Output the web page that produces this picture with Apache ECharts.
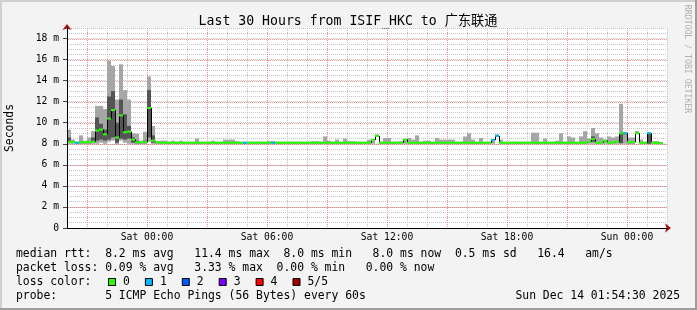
<!DOCTYPE html>
<html><head><meta charset="utf-8">
<script src="https://cdn.jsdelivr.net/npm/echarts@6/dist/echarts.min.js"></script>
<style>html,body{margin:0;padding:0;background:#f3f3f3}#c{width:697px;height:310px}</style>
</head><body><div id="c"></div>
<script>
// time axis in hours relative to Sat 00:00; samples are 12-minute steps starting Fri 20:00
const START_HOUR = -4;
const STEP_HOURS = 0.2;

const pmax = [
 9.35,8.4,8.2,8.8,8.3,8.6,9.2,11.6,11.6,11.3,
 15.9,15.4,12.2,15.55,13.1,12.2,9.0,8.95,8.3,9.15,
 14.4,9.7,8.25,8.3,8.3,8.2,8.3,8.2,8.3,8.2,
 8.2,8.2,8.5,8.2,8.2,8.2,8.3,8.2,8.2,8.4,
 8.4,8.4,8.25,8.2,8.2,8.2,8.2,8.2,8.2,8.2,
 8.25,8.25,8.2,8.2,8.2,8.2,8.2,8.2,8.2,8.2,
 8.2,8.25,8.25,8.2,8.7,8.3,8.2,8.4,8.2,8.5,
 8.25,8.25,8.2,8.2,8.2,8.4,8.45,8.9,8.2,8.55,
 8.55,8.2,8.2,8.25,8.45,8.55,8.4,8.8,8.2,8.3,
 8.3,8.2,8.55,8.4,8.4,8.4,8.4,8.2,8.2,8.7,
 9.0,8.4,8.2,8.55,8.2,8.2,8.45,8.9,8.4,8.2,
 8.2,8.2,8.2,8.2,8.2,8.2,9.05,9.05,8.2,8.5,
 8.2,8.2,8.3,9.0,8.2,8.7,8.6,8.2,8.7,9.2,
 8.5,9.5,9.0,8.6,8.4,8.7,8.6,8.7,11.8,9.1,
 8.6,8.6,9.2,8.4,8.2,9.1,8.25,8.25,8.15
];
const phi = [
 8.6,8.2,8.15,8.15,8.15,8.15,8.6,10.5,9.9,9.35,
 12.5,13.0,10.0,12.2,10.8,9.7,8.6,8.3,8.15,8.3,
 13.1,8.8,8.15,8.15,8.15,8.15,8.15,8.15,8.15,8.15,
 8.15,8.15,8.15,8.15,8.15,8.15,8.15,8.15,8.15,8.15,
 8.15,8.15,8.15,8.15,8.15,8.15,8.15,8.15,8.15,8.15,
 8.15,8.15,8.15,8.15,8.15,8.15,8.15,8.15,8.15,8.15,
 8.15,8.15,8.15,8.15,8.15,8.15,8.15,8.15,8.15,8.15,
 8.15,8.15,8.15,8.15,8.15,8.15,8.4,8.8,8.15,8.15,
 8.15,8.15,8.15,8.15,8.42,8.15,8.15,8.15,8.15,8.15,
 8.15,8.15,8.15,8.15,8.15,8.15,8.15,8.15,8.15,8.15,
 8.15,8.15,8.15,8.15,8.15,8.15,8.4,8.8,8.15,8.15,
 8.15,8.15,8.15,8.15,8.15,8.15,8.15,8.15,8.15,8.15,
 8.15,8.15,8.15,8.15,8.15,8.15,8.15,8.15,8.15,8.15,
 8.25,8.7,8.15,8.15,8.35,8.15,8.15,8.25,9.05,9.05,
 8.15,8.15,9.05,8.15,8.15,9.0,8.15,8.15,8.1
];
const med = [
 8.2,8.15,8.1,8.15,8.15,8.15,8.2,9.25,9.35,8.9,
 10.4,11.2,8.6,10.7,9.1,9.15,8.4,8.15,8.15,8.15,
 11.4,8.3,8.15,8.1,8.1,8.1,8.1,8.1,8.1,8.1,
 8.1,8.1,8.1,8.1,8.1,8.1,8.1,8.1,8.1,8.1,
 8.1,8.1,8.1,8.1,8.1,8.1,8.1,8.1,8.1,8.1,
 8.1,8.1,8.1,8.1,8.1,8.1,8.1,8.1,8.1,8.1,
 8.1,8.1,8.1,8.1,8.1,8.1,8.1,8.1,8.1,8.1,
 8.1,8.1,8.1,8.1,8.1,8.1,8.35,8.75,8.1,8.1,
 8.1,8.1,8.1,8.1,8.4,8.1,8.1,8.1,8.1,8.1,
 8.1,8.1,8.1,8.1,8.1,8.1,8.1,8.1,8.1,8.1,
 8.1,8.1,8.1,8.1,8.1,8.1,8.35,8.75,8.1,8.1,
 8.1,8.1,8.1,8.1,8.1,8.1,8.1,8.1,8.1,8.1,
 8.1,8.1,8.1,8.1,8.1,8.1,8.1,8.1,8.1,8.1,
 8.2,8.45,8.1,8.1,8.3,8.1,8.1,8.2,9.0,9.0,
 8.15,8.15,9.0,8.1,8.1,9.0,8.1,8.1,8.05
];
const plo = [
 8.25,8.1,8.05,8.05,8.05,8.05,8.15,8.3,8.4,8.3,
 8.4,8.6,8.1,8.5,8.4,8.5,8.1,8.05,8.05,8.05,
 8.6,8.1,8.05,8.05,8.05,8.05,8.05,8.05,8.05,8.05,
 8.05,8.05,8.05,8.05,8.05,8.05,8.05,8.05,8.05,8.05,
 8.05,8.05,8.05,8.05,8.05,8.05,8.05,8.05,8.05,8.05,
 8.05,8.05,8.05,8.05,8.05,8.05,8.05,8.05,8.05,8.05,
 8.05,8.05,8.05,8.05,8.05,8.05,8.05,8.05,8.05,8.05,
 8.05,8.05,8.05,8.05,8.05,8.05,8.3,8.72,8.05,8.05,
 8.05,8.05,8.05,8.05,8.35,8.05,8.05,8.05,8.05,8.05,
 8.05,8.05,8.05,8.05,8.05,8.05,8.05,8.05,8.05,8.05,
 8.05,8.05,8.05,8.05,8.05,8.05,8.3,8.72,8.05,8.05,
 8.05,8.05,8.05,8.05,8.05,8.05,8.05,8.05,8.05,8.05,
 8.05,8.05,8.05,8.05,8.05,8.05,8.05,8.05,8.05,8.05,
 8.15,8.2,8.05,8.05,8.25,8.05,8.05,8.15,8.05,8.9,
 8.05,8.05,8.97,8.05,8.05,8.0,8.05,8.05,8.0
];
const pmin = [
 8.0,8.0,8.0,8.0,8.0,8.0,8.0,8.0,8.1,8.0,
 8.2,8.3,7.95,8.3,8.1,8.0,8.0,7.95,8.0,8.0,
 8.2,8.0,8.0,8.0,8.0,8.0,8.0,8.0,8.0,8.0,
 8.0,8.0,8.0,8.0,8.0,8.0,8.0,8.0,8.0,8.0,
 8.0,8.0,8.0,8.0,8.0,8.0,8.0,8.0,8.0,8.0,
 8.0,8.0,8.0,8.0,8.0,8.0,8.0,8.0,8.0,8.0,
 8.0,8.0,8.0,8.0,8.0,8.0,8.0,8.0,8.0,8.0,
 8.0,8.0,8.0,8.0,8.0,8.0,8.0,8.7,8.0,8.0,
 8.0,8.0,8.0,8.0,8.0,8.0,8.0,8.0,8.0,8.0,
 8.0,8.0,8.0,8.0,8.0,8.0,8.0,8.0,8.0,8.0,
 8.0,8.0,8.0,8.0,8.0,8.0,8.0,8.7,8.0,8.0,
 8.0,8.0,8.0,8.0,8.0,8.0,8.0,8.0,8.0,8.0,
 8.0,8.0,8.0,8.0,8.0,8.0,8.0,8.0,8.0,8.0,
 8.0,8.0,8.0,8.0,8.0,8.0,8.0,8.0,8.0,8.0,
 8.0,8.0,8.95,8.0,8.0,8.0,8.0,8.0,8.0
];
const loss = [
 0,0,1,0,0,0,0,0,0,0, 0,0,0,0,0,0,0,0,0,0,
 0,0,0,0,0,0,0,0,0,0, 0,0,0,0,0,0,0,0,0,0,
 0,0,0,0,1,0,0,0,0,0, 0,1,0,0,0,0,0,0,0,0,
 0,0,0,0,0,0,0,0,0,0, 0,0,0,0,0,0,0,0,0,0,
 0,0,0,0,0,0,0,0,0,0, 0,0,0,0,0,0,0,0,0,0,
 0,0,0,0,0,0,1,1,0,0, 0,0,0,0,0,0,0,0,0,0,
 0,0,0,0,0,0,0,0,0,0, 0,0,0,0,0,0,0,0,0,1,
 0,0,0,0,0,1,0,0,0
];

const xTickHours = [0, 6, 12, 18, 24];
const xTickLabels = ['Sat 00:00', 'Sat 06:00', 'Sat 12:00', 'Sat 18:00', 'Sun 00:00'];
const yTickValues = [0, 2, 4, 6, 8, 10, 12, 14, 16, 18];
const yTickLabels = ['0', '2 m', '4 m', '6 m', '8 m', '10 m', '12 m', '14 m', '16 m', '18 m'];
const majorGridHours = [-3, 0, 3, 6, 9, 12, 15, 18, 21, 24];
const majorGridValues = [2, 4, 6, 8, 10, 12, 14, 16, 18];

const lossColors = ['#26ff00', '#00b8ff', '#0059ff', '#7e00ff', '#ff0000', '#a10000'];
const lossLabels = ['0', '1', '2', '3', '4', '5/5'];

const titleText = 'Last 30 Hours from ISIF_HKC to 广东联通';
const statLines = [
  'median rtt:  8.2 ms avg   11.4 ms max  8.0 ms min   8.0 ms now  0.5 ms sd   16.4   am/s',
  'packet loss: 0.09 % avg   3.33 % max  0.00 % min   0.00 % now',
  'loss color:',
  'probe:       5 ICMP Echo Pings (56 Bytes) every 60s'
];
const stampText = 'Sun Dec 14 01:54:30 2025';
const sideText = 'RRDTOOL / TOBI OETIKER';

const MONO = "'DejaVu Sans Mono','Noto Sans CJK SC',monospace";
const GRID = '#c4c4c4';
const MGRID = '#f09090';
const ARROW = '#a31515';
const X_MIN = -4, X_MAX = 26, Y_MIN = 0, Y_MAX = 19;

const items = pmax.map((_, i) => [
  START_HOUR + i * STEP_HOURS, pmin[i], plo[i], med[i], phi[i], pmax[i], loss[i],
  i > 0 ? med[i - 1] : med[i]
]);

function renderSmoke(params, api) {
  const t = api.value(0);
  const xa = api.coord([t, 0])[0];
  const xb = api.coord([t + STEP_HOURS, 0])[0];
  const yMin = api.coord([t, api.value(1)])[1];
  const yLo = api.coord([t, api.value(2)])[1];
  const yHi = api.coord([t, api.value(4)])[1];
  const yMax = api.coord([t, api.value(5)])[1];
  return {
    type: 'group',
    children: [
      { type: 'rect', shape: { x: xa, y: yMax, width: xb - xa, height: yMin - yMax }, style: { fill: '#a6a6a6' } },
      { type: 'rect', shape: { x: xa, y: yHi, width: xb - xa, height: yLo - yHi }, style: { fill: '#555555' } }
    ]
  };
}

function renderMedian(params, api) {
  const t = api.value(0);
  const xa = api.coord([t, 0])[0];
  const xb = api.coord([t + STEP_HOURS, 0])[0];
  const ym = api.coord([t, api.value(3)])[1];
  const yp = api.coord([t, api.value(7)])[1];
  return {
    type: 'group',
    children: [
      { type: 'line', shape: { x1: xa + 0.5, y1: yp, x2: xa + 0.5, y2: ym }, style: { stroke: '#000', lineWidth: 1 } },
      { type: 'rect', shape: { x: xa, y: ym - 1, width: xb - xa, height: 2 }, style: { fill: lossColors[api.value(6)] } }
    ]
  };
}

// major (red) grid drawn as dotted lines, one small rect per dot so it stays crisp
function dottedV(x, y0, y1, color) {
  const kids = [];
  for (let y = Math.ceil(Math.min(y0, y1)); y < Math.max(y0, y1); y += 2) {
    kids.push({ type: 'rect', shape: { x: x, y: y, width: 1, height: 1 }, style: { fill: color } });
  }
  return kids;
}
function dottedH(y, x0, x1, color) {
  const kids = [];
  for (let x = Math.ceil(x0); x < x1; x += 2) {
    kids.push({ type: 'rect', shape: { x: x, y: y, width: 1, height: 1 }, style: { fill: color } });
  }
  return kids;
}
function renderMajorX(params, api) {
  const h = api.value(0);
  const top = api.coord([h, Y_MAX]);
  const bot = api.coord([h, Y_MIN]);
  return { type: 'group', children: dottedV(Math.round(top[0]), top[1], bot[1], MGRID) };
}
function renderMajorY(params, api) {
  const v = api.value(1);
  const l = api.coord([X_MIN, v]);
  const r = api.coord([X_MAX, v]);
  return { type: 'group', children: dottedH(Math.round(l[1]), l[0] + 1, r[0], MGRID) };
}

const graphics = [
  { type: 'rect', shape: { x: 0, y: 0, width: 697, height: 2 }, style: { fill: '#d0d0d0' }, silent: true },
  { type: 'rect', shape: { x: 0, y: 0, width: 2, height: 310 }, style: { fill: '#d0d0d0' }, silent: true },
  { type: 'rect', shape: { x: 695, y: 0, width: 2, height: 310 }, style: { fill: '#9e9e9e' }, silent: true },
  { type: 'rect', shape: { x: 0, y: 308, width: 697, height: 2 }, style: { fill: '#9e9e9e' }, silent: true },
  { type: 'text', x: 348, y: 21.5, style: { text: titleText, font: '13.2px ' + MONO, fill: '#000', align: 'center', verticalAlign: 'middle' } },
  { type: 'text', x: 10.5, y: 128, rotation: Math.PI / 2, style: { text: 'Seconds', font: '11.4px ' + MONO, fill: '#000', align: 'center', verticalAlign: 'middle' } },
  { type: 'text', x: 687.5, y: 59, rotation: -Math.PI / 2, style: { text: sideText, font: '8.2px ' + MONO, fill: '#b0b0b0', align: 'center', verticalAlign: 'middle' } },
  { type: 'text', x: 680, y: 296, style: { text: stampText, font: '11.4px ' + MONO, fill: '#000', align: 'right', verticalAlign: 'middle' } }
];
statLines.forEach((s, k) => {
  graphics.push({ type: 'text', x: 16, y: 254 + 14 * k, style: { text: s, font: '11.4px ' + MONO, fill: '#000', align: 'left', verticalAlign: 'middle' } });
});
lossColors.forEach((c, k) => {
  const bx = 108.5 + 36.9 * k;
  graphics.push({ type: 'rect', shape: { x: bx, y: 278.5, width: 7, height: 7 }, style: { fill: c, stroke: '#000', lineWidth: 1 } });
  graphics.push({ type: 'text', x: bx + 14.5, y: 282, style: { text: lossLabels[k], font: '11.4px ' + MONO, fill: '#000', align: 'left', verticalAlign: 'middle' } });
});

const chart = echarts.init(document.getElementById('c'), null, { renderer: 'canvas' });
chart.setOption({
  backgroundColor: '#f3f3f3',
  animation: false,
  grid: { left: 67, top: 28, width: 600, height: 200, show: true, backgroundColor: '#ffffff', borderWidth: 0 },
  xAxis: [
    {
      type: 'value', min: X_MIN, max: X_MAX, interval: 1, position: 'bottom', z: 0,
      axisLine: { show: true, onZero: false, lineStyle: { color: ARROW, width: 1 }, symbol: ['none', 'arrow'], symbolSize: [7, 6], symbolOffset: [0, 4] },
      axisTick: { show: false }, axisLabel: { show: false },
      splitLine: { show: true, lineStyle: { color: GRID, type: [1, 1], width: 1 } }
    },
    {
      type: 'value', min: X_MIN, max: X_MAX, interval: 1, position: 'bottom', z: 10,
      axisLine: { show: true, onZero: false, lineStyle: { color: '#000', width: 1 } },
      axisTick: { show: false },
      axisLabel: {
        show: true, customValues: xTickHours, margin: 5, fontSize: 9.7, fontFamily: MONO, color: '#000',
        formatter: v => { const k = xTickHours.indexOf(v); return k >= 0 ? xTickLabels[k] : ''; }
      },
      splitLine: { show: false }
    }
  ],
  yAxis: [
    {
      type: 'value', min: Y_MIN, max: Y_MAX, interval: 0.5, position: 'left', z: 0,
      axisLine: { show: true, onZero: false, lineStyle: { color: ARROW, width: 1 }, symbol: ['none', 'arrow'], symbolSize: [7, 6], symbolOffset: [0, 4] },
      axisTick: { show: false }, axisLabel: { show: false },
      splitLine: { show: true, lineStyle: { color: GRID, type: [1, 1], width: 1 } }
    },
    {
      type: 'value', min: Y_MIN, max: Y_MAX, interval: 2, position: 'left', z: 10,
      axisLine: { show: true, onZero: false, lineStyle: { color: '#000', width: 1 } },
      axisTick: { show: true, customValues: yTickValues, length: 4, lineStyle: { color: '#444' } },
      axisLabel: {
        show: true, customValues: yTickValues, margin: 8, fontSize: 9.7, fontFamily: MONO, color: '#000',
        formatter: v => { const k = yTickValues.indexOf(v); return k >= 0 ? yTickLabels[k] : ''; }
      },
      splitLine: { show: false }
    }
  ],
  series: [
    { type: 'custom', name: 'majorX', xAxisIndex: 0, yAxisIndex: 0, renderItem: renderMajorX, data: majorGridHours.map(h => [h, Y_MAX / 2]), encode: { x: 0, y: 1 }, z: 1, silent: true, clip: false },
    { type: 'custom', name: 'majorY', xAxisIndex: 0, yAxisIndex: 0, renderItem: renderMajorY, data: majorGridValues.map(v => [(X_MIN + X_MAX) / 2, v]), encode: { x: 0, y: 1 }, z: 1, silent: true, clip: false },
    { type: 'custom', name: 'smoke', xAxisIndex: 0, yAxisIndex: 0, renderItem: renderSmoke, data: items, encode: { x: 0, y: 3 }, z: 2, silent: true },
    { type: 'custom', name: 'median', xAxisIndex: 0, yAxisIndex: 0, renderItem: renderMedian, data: items, encode: { x: 0, y: 3 }, z: 3, silent: true }
  ],
  graphic: graphics
});
</script></body></html>
